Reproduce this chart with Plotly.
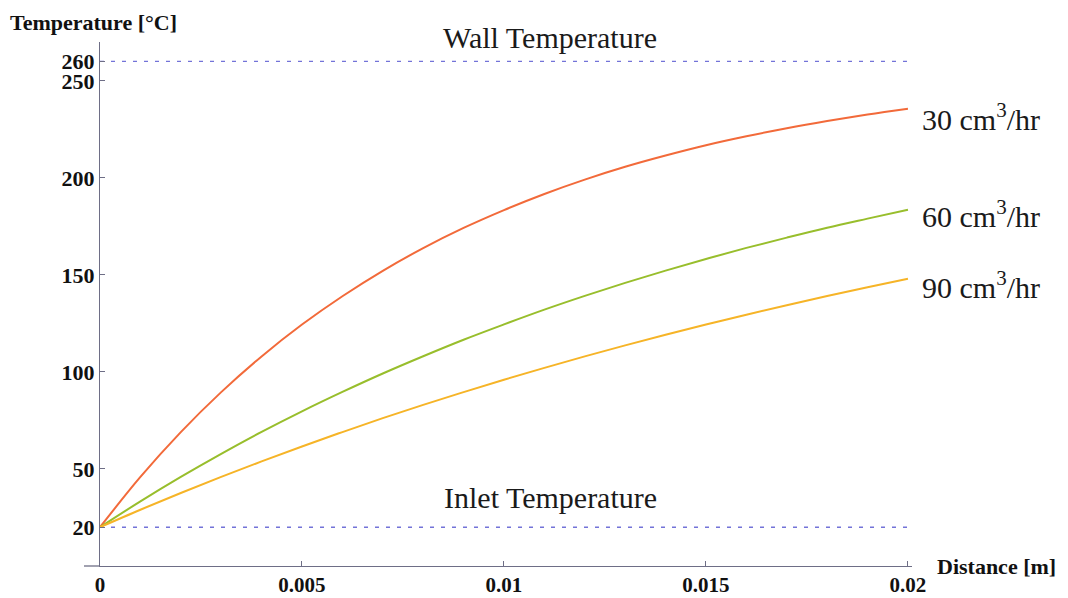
import plotly.graph_objects as go

# ---- data ----
distance = [0.000, 0.001, 0.002, 0.003, 0.004, 0.005, 0.006, 0.007, 0.008, 0.009, 0.010,
            0.011, 0.012, 0.013, 0.014, 0.015, 0.016, 0.017, 0.018, 0.019, 0.020]
temp_30 = [20.0, 45.9, 69.0, 89.6, 108.0, 124.4, 139.0, 152.1, 163.8, 174.2, 183.4,
           191.7, 199.1, 205.7, 211.5, 216.8, 221.4, 225.6, 229.3, 232.6, 235.6]
temp_60 = [20.0, 33.3, 45.9, 57.8, 69.1, 79.7, 89.7, 99.2, 108.1, 116.6, 124.5,
           132.1, 139.2, 145.9, 152.2, 158.2, 163.9, 169.2, 174.3, 179.0, 183.6]
temp_90 = [20.0, 29.0, 37.6, 45.9, 53.9, 61.6, 69.0, 76.2, 83.0, 89.6, 96.0,
           102.1, 108.0, 113.7, 119.2, 124.4, 129.5, 134.4, 139.1, 143.6, 148.0]
series_labels = ["30 cm<sup>3</sup>/hr", "60 cm<sup>3</sup>/hr", "90 cm<sup>3</sup>/hr"]
wall_temp = 260
inlet_temp = 20
ref_x = [0.0, 0.02]
x_ticks = [0, 0.005, 0.01, 0.015, 0.02]
x_tick_text = ["0", "0.005", "0.01", "0.015", "0.02"]
y_ticks = [20, 50, 100, 150, 200, 250, 260]
y_tick_text = ["20", "50", "100", "150", "200", "250", "260"]

# ---- layout geometry (pixels) ----
W, H = 1068, 598
L, R, T, B = 100, 912, 42, 566

def px(x):
    return (x - L) / (R - L)

def py(y):
    return (B - y) / (B - T)

colors = ["#F26A3A", "#98BE2C", "#F6B427"]
dash_col = "#7373D8"
axis_col = "#6E6E86"
serif = "Liberation Serif"

fig = go.Figure()

for yv in [wall_temp, inlet_temp]:
    fig.add_trace(go.Scatter(x=ref_x, y=[yv, yv], mode="lines",
                             line=dict(color=dash_col, width=1.4, dash="4px,7px"),
                             hoverinfo="skip", showlegend=False))

for ys, c in zip([temp_30, temp_60, temp_90], colors):
    fig.add_trace(go.Scatter(x=distance, y=ys, mode="lines",
                             line=dict(color=c, width=2, shape="spline", smoothing=1.0),
                             showlegend=False))

fig.update_layout(
    width=W, height=H,
    margin=dict(l=L, r=W - R, t=T, b=H - B),
    plot_bgcolor="white", paper_bgcolor="white",
    xaxis=dict(range=[0, 0.0201], tickvals=x_ticks, ticktext=x_tick_text,
               showgrid=False, zeroline=False, showline=True, linecolor=axis_col,
               linewidth=1.3, ticks="inside", ticklen=5, tickcolor=axis_col,
               ticklabelstandoff=0,
               tickfont=dict(family=serif, size=21, color="#111", weight="bold"),
               automargin=False),
    yaxis=dict(range=[0, 270], tickvals=y_ticks, ticktext=y_tick_text,
               showgrid=False, zeroline=False, showline=True, linecolor=axis_col,
               linewidth=1.3, ticks="inside", ticklen=5, tickcolor=axis_col,
               tickfont=dict(family=serif, size=22, color="#111", weight="bold"),
               automargin=False),
)

# extension of x-axis line to the left of the y axis
fig.add_shape(type="line", xref="paper", yref="paper", x0=px(84), x1=px(100), y0=0, y1=0,
              line=dict(color=axis_col, width=1.3))

ann = []
ann.append(dict(text="Temperature [°C]", x=px(8), y=py(22), xanchor="left", yanchor="middle",
                font=dict(family=serif, size=22, color="#111", weight="bold")))
ann.append(dict(text="Distance [m]", x=px(935), y=py(566), xanchor="left", yanchor="middle",
                font=dict(family=serif, size=22, color="#111", weight="bold")))
ann.append(dict(text="Wall Temperature", x=px(550), y=py(37), xanchor="center", yanchor="middle",
                font=dict(family=serif, size=30, color="#1a1a1a")))
ann.append(dict(text="Inlet Temperature", x=px(550), y=py(497), xanchor="center", yanchor="middle",
                font=dict(family=serif, size=30, color="#1a1a1a")))
for lab, yy in zip(series_labels, [117, 214, 285]):
    ann.append(dict(text=lab, x=px(920), y=py(yy), xanchor="left", yanchor="middle",
                    font=dict(family=serif, size=30, color="#1a1a1a")))
for a in ann:
    a.update(xref="paper", yref="paper", showarrow=False)
fig.update_layout(annotations=ann)

fig.write_html("out.html")
